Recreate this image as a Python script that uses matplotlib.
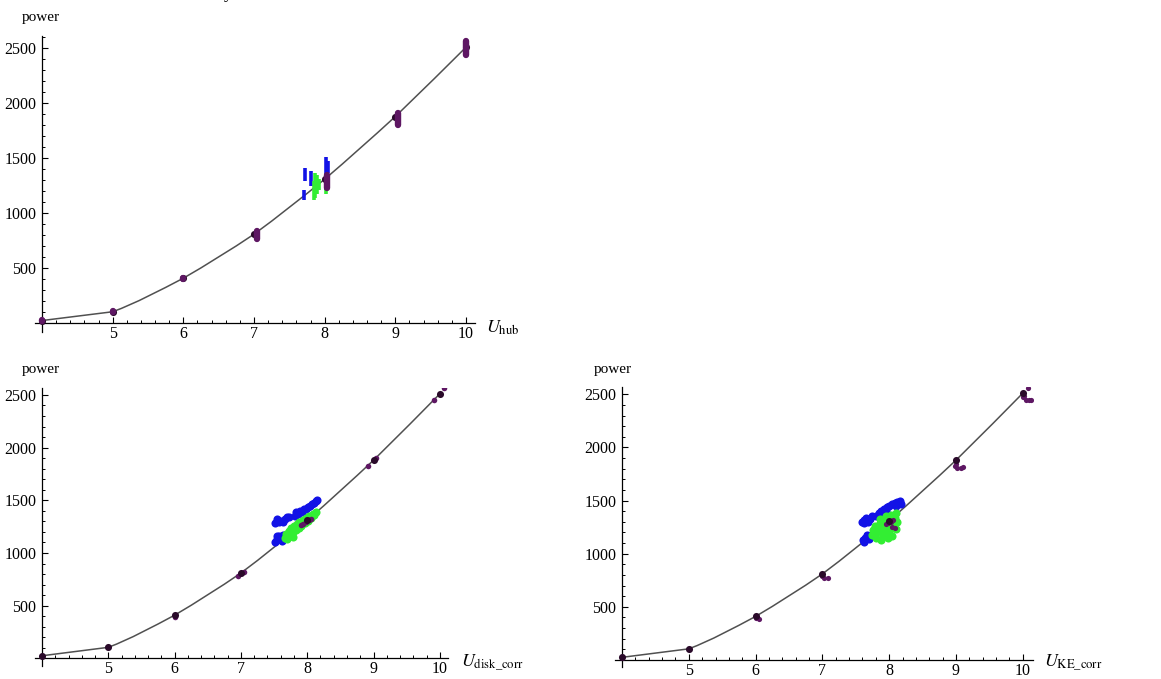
import numpy as np
import matplotlib
matplotlib.use("Agg")
import matplotlib.pyplot as plt
from matplotlib.path import Path
from matplotlib.patches import PathPatch
from matplotlib.ticker import FixedLocator, MultipleLocator

# ---------------- data ----------------
# reference power curve (wind speed m/s -> power kW)
CURVE_SPEED = [4, 5, 6, 7, 8, 9, 10]
CURVE_POWER = [25, 105, 410, 810, 1310, 1880, 2510]

X_TICKS = [5, 6, 7, 8, 9, 10]
Y_TICKS = [500, 1000, 1500, 2000, 2500]

# panel 1: hub-height speed -> stacks of samples (x, low, high)
HUB_PURPLE_X = [4.0, 5.0, 6.0, 7.045, 8.03, 9.035, 10.0]
HUB_PURPLE_LO = [18, 102, 405, 770, 1230, 1800, 2440]
HUB_PURPLE_HI = [28, 110, 415, 840, 1350, 1915, 2565]
HUB_BLUE_X = [7.71, 7.72, 7.81, 8.02, 8.045]
HUB_BLUE_LO = [1120, 1295, 1250, 1215, 1365]
HUB_BLUE_HI = [1215, 1415, 1385, 1515, 1480]
HUB_GREEN_X = [7.85, 7.87, 7.89, 7.92, 8.02]
HUB_GREEN_LO = [1120, 1140, 1180, 1210, 1175]
HUB_GREEN_HI = [1290, 1370, 1350, 1310, 1245]

# panel 2: disk-corrected speed
DISK_PURPLE_X = [4.0, 5.0, 6.0, 6.96, 7.04, 7.90, 7.94, 7.98, 8.02, 8.05, 8.91, 9.04, 9.91, 10.07]
DISK_PURPLE_Y = [20, 110, 395, 780, 820, 1262, 1275, 1290, 1310, 1325, 1825, 1900, 2450, 2565]
DISK_BLUE_X = [7.51, 7.54, 7.57, 7.60, 7.63, 7.66, 7.69, 7.72, 7.55,
               7.81, 7.83, 7.86, 7.89, 7.92, 7.95, 7.98, 8.01, 8.04, 8.07, 8.10, 8.13, 8.15,
               7.52, 7.55, 7.58, 7.61, 7.64, 7.55, 7.62]
DISK_BLUE_Y = [1280, 1300, 1290, 1305, 1295, 1320, 1345, 1340, 1325,
               1350, 1385, 1370, 1400, 1390, 1420, 1415, 1440, 1450, 1465, 1475, 1490, 1500,
               1100, 1130, 1160, 1140, 1175, 1165, 1110]
DISK_GREEN_X = [7.67, 7.68, 7.71, 7.72, 7.75, 7.76, 7.79, 7.80, 7.83, 7.84, 7.87, 7.88,
                7.91, 7.93, 7.96, 7.98, 8.01, 8.03, 8.06, 8.08, 8.11, 8.13, 7.70, 7.78]
DISK_GREEN_Y = [1140, 1180, 1160, 1210, 1175, 1235, 1200, 1255, 1220, 1275, 1240, 1295,
                1260, 1315, 1285, 1335, 1305, 1350, 1330, 1370, 1360, 1390, 1130, 1150]

# panel 3: kinetic-energy-corrected speed
KE_PURPLE_X = [4.0, 5.0, 6.0, 6.05, 7.0, 7.02, 7.08, 7.95, 7.98, 8.02, 8.06, 8.04, 8.08,
               8.98, 9.0, 9.02, 9.07, 9.10, 10.0, 10.02, 10.05, 10.10, 10.13, 10.08]
KE_PURPLE_Y = [15, 105, 392, 385, 790, 775, 772, 1280, 1285, 1300, 1320, 1250, 1245,
               1825, 1840, 1810, 1810, 1812, 2470, 2480, 2450, 2448, 2450, 2560]
KE_BLUE_X = [7.60, 7.63, 7.66, 7.68, 7.72, 7.75, 7.62,
             7.80, 7.84, 7.88, 7.86, 7.92, 7.96, 8.00, 8.04, 8.08, 8.12, 8.16, 8.18, 8.10, 7.95,
             7.61, 7.64, 7.67, 7.70, 7.73, 7.63]
KE_BLUE_Y = [1300, 1320, 1340, 1300, 1330, 1355, 1285,
             1350, 1380, 1400, 1360, 1420, 1440, 1450, 1465, 1480, 1490, 1500, 1470, 1445, 1405,
             1125, 1150, 1175, 1140, 1165, 1110]
KE_GREEN_X = [7.74, 7.76, 7.78, 7.80, 7.82, 7.84, 7.86, 7.88, 7.90, 7.92, 7.94, 7.96,
              7.98, 8.00, 8.02, 8.05, 8.08, 8.10, 8.04, 8.10, 8.12, 7.86, 7.95, 8.02]
KE_GREEN_Y = [1180, 1220, 1260, 1150, 1200, 1240, 1290, 1130, 1175, 1220, 1265, 1310,
              1150, 1200, 1240, 1290, 1340, 1380, 1170, 1230, 1300, 1330, 1350, 1360]

# ---------------- style ----------------
plt.rcParams["font.family"] = ["Liberation Serif", "DejaVu Serif"]
plt.rcParams["mathtext.fontset"] = "stix"

PURPLE = "#5e1763"
BLUE = "#1212e6"
GREEN = "#33ee33"
DOT = "#2a0a2a"
LINE = "#505050"

W, H = 1161, 679
fig = plt.figure(figsize=(W / 100, H / 100), dpi=100)


def make_axes(origin_px, xscale, yscale, xlim, ylim):
    """Axes placed so that data (4, 0) sits at origin_px with given px/unit scales."""
    ox, oy = origin_px
    left = ox + (xlim[0] - 4) * xscale
    right = ox + (xlim[1] - 4) * xscale
    bottom = oy - ylim[0] * yscale
    top = oy - ylim[1] * yscale
    ax = fig.add_axes([left / W, 1 - bottom / H, (right - left) / W, (bottom - top) / H])
    ax.set_xlim(*xlim)
    ax.set_ylim(*ylim)
    ax.patch.set_alpha(0)
    for s in ("top", "right"):
        ax.spines[s].set_visible(False)
    ax.spines["left"].set_position(("data", 4))
    ax.spines["bottom"].set_position(("data", 0))
    for s in ("left", "bottom"):
        ax.spines[s].set_linewidth(0.9)
    ax.xaxis.set_major_locator(FixedLocator(X_TICKS))
    ax.xaxis.set_minor_locator(MultipleLocator(0.2))
    ax.yaxis.set_major_locator(FixedLocator(Y_TICKS))
    ax.yaxis.set_minor_locator(MultipleLocator(100))
    ax.tick_params(which="major", direction="in", length=4.5, width=0.8, labelsize=11.5)
    ax.tick_params(which="minor", direction="in", length=2.3, width=0.7)
    ax.tick_params(axis="x", which="major", pad=2)
    ax.tick_params(axis="y", which="major", pad=4)
    return ax


def curve_path(xs, ys, k=0.6):
    """Smooth cubic path through the curve points; first span is a straight chord."""
    pts = np.column_stack([xs, ys]).astype(float)
    n = len(pts)
    verts = [pts[0]]
    codes = [Path.MOVETO]
    for i in range(n - 1):
        p0 = pts[max(i - 1, 0)]
        p1 = pts[i]
        p2 = pts[i + 1]
        p3 = pts[min(i + 2, n - 1)]
        chord = (p2 - p1) / 3
        if i == 0:
            c1, c2 = p1 + chord, p2 - chord
        else:
            c1 = p1 + k * (p2 - p0) / 6 + (1 - k) * chord
            c2 = p2 - k * (p3 - p1) / 6 - (1 - k) * chord
        verts += [c1, c2, p2]
        codes += [Path.CURVE4] * 3
    return Path(verts, codes)


def draw_curve(ax):
    ax.add_patch(PathPatch(curve_path(CURVE_SPEED, CURVE_POWER), fill=False,
                           edgecolor=LINE, linewidth=1.1, zorder=2))


def draw_curve_points(ax, z=6):
    ax.scatter(CURVE_SPEED, CURVE_POWER, s=26, color=DOT, linewidths=0, zorder=z)


def fig_text(px, py, s, **kw):
    fig.text(px / W, 1 - py / H, s, **kw)


# ---------- panel 1 : U_hub ----------
ax1 = make_axes((42, 323.3), 70.67, 0.11, (3.9, 10.13), (-80, 2610))
draw_curve(ax1)
ax1.vlines(HUB_BLUE_X, HUB_BLUE_LO, HUB_BLUE_HI, colors=BLUE, linewidth=2.6, zorder=3)
ax1.vlines(HUB_GREEN_X, HUB_GREEN_LO, HUB_GREEN_HI, colors=GREEN, linewidth=2.6, zorder=4)
draw_curve_points(ax1, z=5)
ax1.vlines(HUB_PURPLE_X, HUB_PURPLE_LO, HUB_PURPLE_HI, colors=PURPLE, linewidth=4.6,
           capstyle="round", zorder=6)
fig_text(41, 17, "power", fontsize=11, ha="center", va="center")
fig_text(486, 328, r"$U_{\mathrm{hub}}$", fontsize=13, ha="left", va="center")

# ---------- panel 2 : U_disk_corr ----------
ax2 = make_axes((42, 658.4), 66.3, 0.1054, (3.894, 10.12), (-70, 2570))
draw_curve(ax2)
ax2.scatter(DISK_BLUE_X, DISK_BLUE_Y, s=34, color=BLUE, linewidths=0, zorder=3)
ax2.scatter(DISK_GREEN_X, DISK_GREEN_Y, s=34, color=GREEN, linewidths=0, zorder=4)
draw_curve_points(ax2)
ax2.scatter(DISK_PURPLE_X, DISK_PURPLE_Y, s=16, color=PURPLE, linewidths=0, zorder=5)
fig_text(41, 370, "power", fontsize=11, ha="center", va="center")
fig_text(461, 663, r"$U_{\mathrm{disk\_corr}}$", fontsize=13, ha="left", va="center")

# ---------- panel 3 : U_KE_corr ----------
ax3 = make_axes((622, 660), 66.8, 0.1063, (3.895, 10.15), (-70, 2565))
draw_curve(ax3)
ax3.scatter(KE_BLUE_X, KE_BLUE_Y, s=34, color=BLUE, linewidths=0, zorder=3)
ax3.scatter(KE_GREEN_X, KE_GREEN_Y, s=34, color=GREEN, linewidths=0, zorder=4)
ax3.scatter(KE_PURPLE_X, KE_PURPLE_Y, s=14, color=PURPLE, linewidths=0, zorder=5)
draw_curve_points(ax3)
fig_text(613, 370, "power", fontsize=11, ha="center", va="center")
fig_text(1044, 663, r"$U_{\mathrm{KE\_corr}}$", fontsize=13, ha="left", va="center")

# descender of the heading that runs off the top edge
fig_text(228, -2, "y", fontsize=13, ha="center", va="baseline")

fig.savefig("out.png", dpi=100, facecolor="white")
